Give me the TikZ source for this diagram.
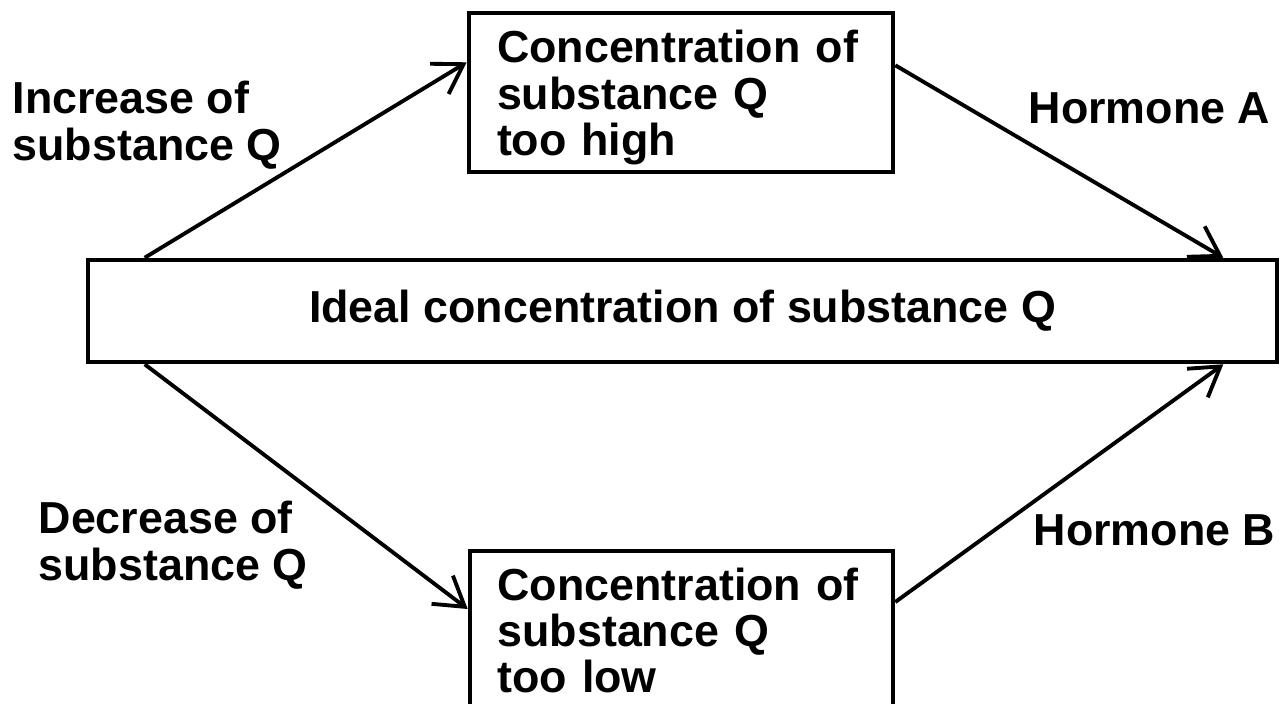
\documentclass[tikz,border=0pt]{standalone}
\usepackage{fontspec}
\setmainfont{Liberation Sans}
\usetikzlibrary{arrows.meta}
\tikzset{
  qbox/.style={draw=black,line width=1.3pt,rectangle,inner sep=0pt},
  qarrow/.style={draw=black,line width=1.1pt,-{Straight Barb[angle=64:9.5pt]}},
  qlabel/.style={align=left,inner sep=0pt}
}
\newcommand{\qfont}{\fontsize{12.75pt}{13.2pt}\selectfont\bfseries}

\begin{document}
\begin{tikzpicture}[x=1cm,y=1cm,font=\qfont]
\clip (0,0) rectangle (12.82,7.03);
\path[use as bounding box] (0,0) rectangle (12.82,7.03);
\node[qbox,align=left,text width=3.68cm,minimum width=4.24cm,minimum height=1.59cm] (high) at (6.81,6.107) {\rule{0pt}{0.43cm}Concentration of\\substance Q\\too high};
\node[qbox,align=center,minimum width=11.89cm,minimum height=1.02cm] (ideal) at (6.825,3.92) {Ideal concentration of substance Q};
\node[qbox,align=left,text width=3.68cm,minimum width=4.23cm,minimum height=1.59cm] (low) at (6.815,0.725) {Concentration of\\substance Q\\too low};
\node[qlabel,anchor=base west] (incr) at (0.12,5.43) {Increase of\\substance Q};
\node[qlabel,anchor=base west] (decr) at (0.38,1.23) {Decrease of\\substance Q};
\node[qlabel,anchor=base west] (hormA) at (10.28,5.80) {Hormone A};
\node[qlabel,anchor=base west] (hormB) at (10.33,1.58) {Hormone B};
\draw[qarrow] ([xshift=0.59cm]ideal.north west) -- ([yshift=0.30cm]high.west);
\draw[qarrow] ([yshift=0.27cm]high.east) -- ([xshift=-0.56cm]ideal.north east);
\draw[qarrow] ([xshift=0.59cm]ideal.south west) -- ([yshift=0.215cm]low.west);
\draw[qarrow] ([yshift=0.285cm]low.east) -- ([xshift=-0.56cm]ideal.south east);
\end{tikzpicture}
\end{document}
